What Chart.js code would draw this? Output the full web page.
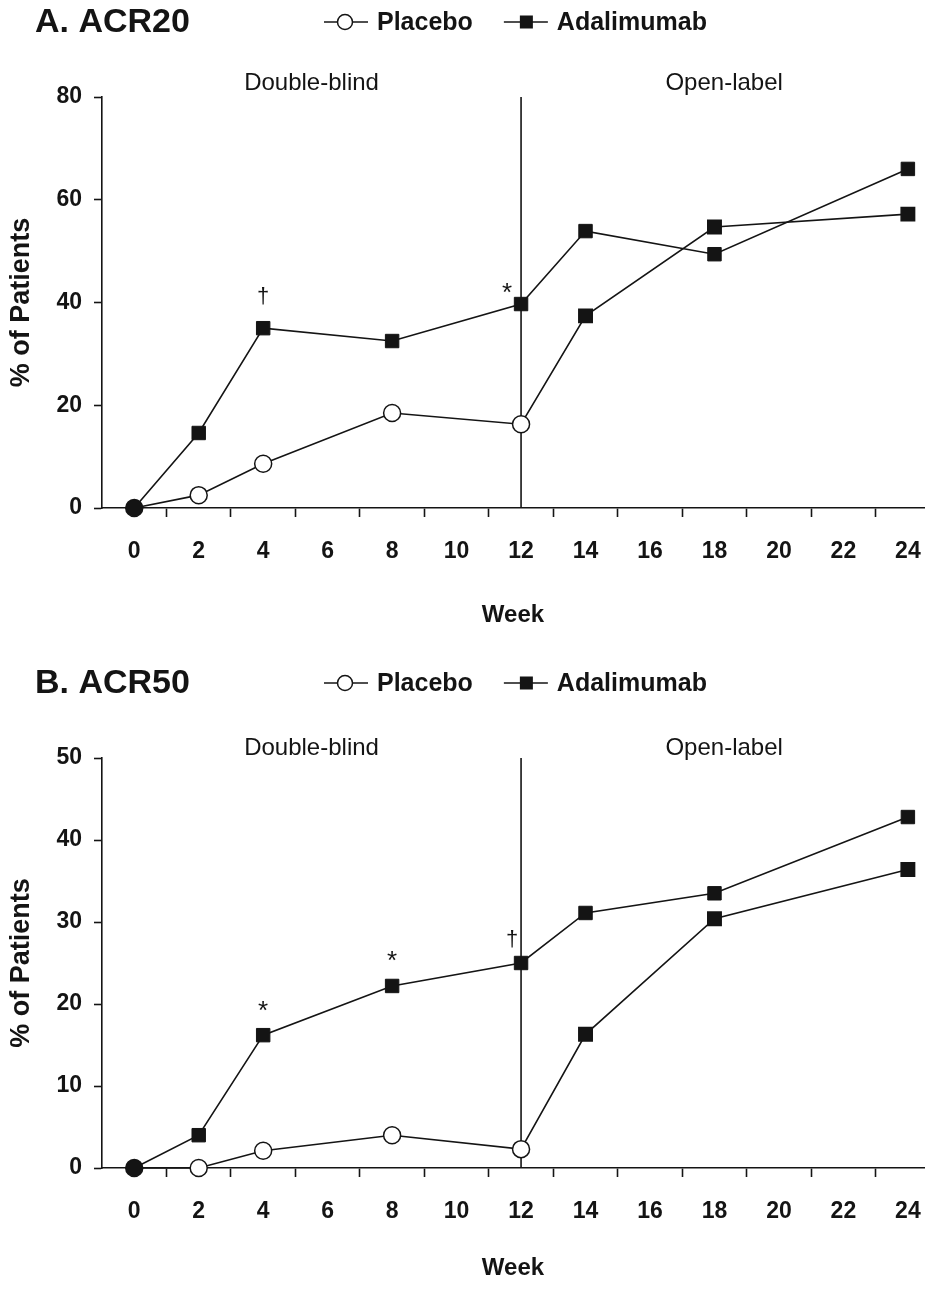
<!DOCTYPE html>
<html>
<head>
<meta charset="utf-8">
<title>ACR20 / ACR50</title>
<script src="https://cdn.jsdelivr.net/npm/chart.js@4.4.1/dist/chart.umd.min.js"></script>
<style>
  html, body { margin: 0; padding: 0; background: #fff; overflow: hidden; }
  canvas { position: absolute; left: 0; display: block; }
  #chartA { top: 0; }
  #chartB { top: 650px; }
</style>
</head>
<body>
<canvas id="chartA" width="935" height="650"></canvas>
<canvas id="chartB" width="935" height="639"></canvas>
<script>
// weeks where patients were assessed
var weeks = [0, 2, 4, 8, 12, 14, 18, 24];
// labelled ticks and the small marks between them
var weekTicks = [0, 2, 4, 6, 8, 10, 12, 14, 16, 18, 20, 22, 24];
var weekMarks = [1, 3, 5, 7, 9, 11, 13, 15, 17, 19, 21, 23];
var switchWeek = 12;

var acr20Placebo = [0, 2.5, 8.6, 18.5, 16.3, 37.4, 54.7, 57.2];
var acr20Adalimumab = [0, 14.6, 35.0, 32.5, 39.7, 53.9, 49.4, 66.0];
var acr20Ticks = [0, 20, 40, 60, 80];

var acr50Placebo = [0, 0, 2.1, 4.0, 2.3, 16.3, 30.4, 36.4];
var acr50Adalimumab = [0, 4.0, 16.2, 22.2, 25.0, 31.1, 33.5, 42.8];
var acr50Ticks = [0, 10, 20, 30, 40, 50];

var seriesNames = ['Placebo', 'Adalimumab'];
var phaseNames = ['Double-blind', 'Open-label'];

var ink = '#141414';
Chart.defaults.font.family = "'Liberation Sans', Arial, Helvetica, sans-serif";
Chart.defaults.color = ink;

// title, legend, phase labels, week-12 line and significance marks
var panelDecor = {
    id: 'panelDecor',
    beforeDatasetsDraw: function (chart, args, opts) {
        var ctx = chart.ctx;
        var x = chart.scales.x.getPixelForValue(switchWeek);
        ctx.save();
        ctx.strokeStyle = ink;
        ctx.lineWidth = 1.6;
        ctx.beginPath();
        ctx.moveTo(x, chart.chartArea.top);
        ctx.lineTo(x, chart.chartArea.bottom);
        ctx.stroke();
        ctx.restore();
    },
    afterDraw: function (chart, args, opts) {
        var ctx = chart.ctx;
        var xs = chart.scales.x;
        var top = chart.chartArea.top;
        ctx.save();
        ctx.fillStyle = ink;
        ctx.strokeStyle = ink;

        // panel title
        ctx.font = "bold 34px 'Liberation Sans', Arial, sans-serif";
        ctx.textAlign = 'left';
        ctx.textBaseline = 'middle';
        ctx.fillText(opts.title, 35, opts.headerY + 1);

        // legend
        var lx = 324;
        ctx.font = "bold 25px 'Liberation Sans', Arial, sans-serif";
        chart.data.datasets.forEach(function (ds, i) {
            ctx.lineWidth = 1.6;
            ctx.beginPath();
            ctx.moveTo(lx, opts.headerY);
            ctx.lineTo(lx + 44, opts.headerY);
            ctx.stroke();
            ctx.lineWidth = 1.5;
            if (i === 0) {
                ctx.fillStyle = '#fff';
                ctx.beginPath();
                ctx.arc(lx + 21, opts.headerY, 7.5, 0, Math.PI * 2);
                ctx.fill();
                ctx.stroke();
            } else {
                ctx.fillStyle = ink;
                ctx.fillRect(lx + 16, opts.headerY - 6.5, 13, 13);
            }
            ctx.fillStyle = ink;
            ctx.fillText(ds.label, lx + 53, opts.headerY + 1);
            lx += 53 + ctx.measureText(ds.label).width + 31;
        });

        // phase labels
        ctx.font = "24px 'Liberation Sans', Arial, sans-serif";
        ctx.textAlign = 'center';
        ctx.textBaseline = 'alphabetic';
        ctx.fillText(phaseNames[0], xs.getPixelForValue(5.5), top - opts.phaseGap);
        ctx.fillText(phaseNames[1], xs.getPixelForValue(18.3), top - opts.phaseGap);

        // significance marks above Adalimumab points
        var meta = chart.getDatasetMeta(1);
        opts.marks.forEach(function (m) {
            var pt = meta.data[weeks.indexOf(m.week)];
            ctx.font = (m.symbol === '*' ? '26px' : '22px') + " 'Liberation Sans', Arial, sans-serif";
            ctx.textBaseline = 'middle';
            ctx.fillText(m.symbol, pt.x + m.dx, pt.y - m.dy);
        });
        ctx.restore();
    }
};

function makePanel(canvasId, cfg) {
    var placeboStyle = function (c) { return weeks[c.dataIndex] > switchWeek ? 'rect' : 'circle'; };
    var placeboFill = function (c) {
        return (c.dataIndex === 0 || weeks[c.dataIndex] > switchWeek) ? ink : '#fff';
    };
    var placeboRadius = function (c) { return weeks[c.dataIndex] > switchWeek ? 9.5 : 8.5; };

    return new Chart(document.getElementById(canvasId), {
        type: 'line',
        data: {
            labels: weeks,
            datasets: [{
                label: seriesNames[0],
                data: weeks.map(function (w, i) { return { x: w, y: cfg.placebo[i] }; }),
                borderColor: ink,
                borderWidth: 1.6,
                pointStyle: placeboStyle,
                pointRadius: placeboRadius,
                pointBackgroundColor: placeboFill,
                pointBorderColor: ink,
                pointBorderWidth: 1.5,
                clip: false,
                order: 0
            }, {
                label: seriesNames[1],
                data: weeks.map(function (w, i) { return { x: w, y: cfg.adalimumab[i] }; }),
                borderColor: ink,
                borderWidth: 1.6,
                pointStyle: 'rect',
                pointRadius: function (c) { return c.dataIndex === 0 ? 0 : 9.5; },
                pointBackgroundColor: ink,
                pointBorderColor: ink,
                pointBorderWidth: 1,
                clip: false,
                order: 1
            }]
        },
        options: {
            responsive: false,
            animation: false,
            devicePixelRatio: 1,
            layout: { padding: { top: cfg.plotTop, left: 0, right: 0, bottom: 0 } },
            plugins: {
                legend: { display: false },
                tooltip: { enabled: false },
                panelDecor: {
                    title: cfg.title,
                    headerY: cfg.headerY,
                    phaseGap: cfg.phaseGap,
                    marks: cfg.marks
                }
            },
            scales: {
                x: {
                    type: 'linear',
                    min: -1,
                    max: 24.5,
                    afterBuildTicks: function (axis) {
                        var vals = weekTicks.concat(weekMarks).sort(function (a, b) { return a - b; });
                        vals = [axis.min].concat(vals, [axis.max]);
                        axis.ticks = vals.map(function (v) { return { value: v }; });
                    },
                    afterFit: function (axis) { axis.height = cfg.xAxisHeight; },
                    border: { display: true, color: ink, width: 1.6 },
                    grid: {
                        drawOnChartArea: false,
                        drawTicks: true,
                        tickLength: 9,
                        tickWidth: 1.6,
                        tickColor: function (c) {
                            return c.tick && weekMarks.indexOf(c.tick.value) >= 0 ? ink : 'rgba(0,0,0,0)';
                        }
                    },
                    ticks: {
                        autoSkip: false,
                        maxRotation: 0,
                        padding: 0,
                        font: { size: 23, weight: 'bold', lineHeight: '70px' },
                        callback: function (v) { return weekTicks.indexOf(v) >= 0 ? String(v) : ''; }
                    },
                    title: {
                        display: true,
                        text: 'Week',
                        font: { size: 24, weight: 'bold' },
                        padding: { top: 0, bottom: cfg.weekPad }
                    }
                },
                y: {
                    min: cfg.yTicks[0],
                    max: cfg.yTicks[cfg.yTicks.length - 1],
                    afterBuildTicks: function (axis) {
                        axis.ticks = cfg.yTicks.map(function (v) { return { value: v }; });
                    },
                    afterFit: function (axis) { axis.width = 102; },
                    border: { display: true, color: ink, width: 1.6 },
                    grid: {
                        drawOnChartArea: false,
                        drawTicks: true,
                        tickLength: 8,
                        tickWidth: 1.6,
                        tickColor: ink
                    },
                    ticks: {
                        padding: 12,
                        font: { size: 23, weight: 'bold' }
                    },
                    title: {
                        display: true,
                        text: '% of Patients',
                        font: { size: 27, weight: 'bold' },
                        padding: { top: 5, bottom: 0 }
                    }
                }
            }
        },
        plugins: [panelDecor]
    });
}

makePanel('chartA', {
    title: 'A. ACR20',
    placebo: acr20Placebo,
    adalimumab: acr20Adalimumab,
    yTicks: acr20Ticks,
    plotTop: 97,
    xAxisHeight: 142,
    weekPad: 20,
    headerY: 22,
    phaseGap: 7,
    marks: [
        { week: 4, symbol: '\u2020', dx: 0, dy: 31 },
        { week: 12, symbol: '*', dx: -14, dy: 10 }
    ]
});

makePanel('chartB', {
    title: 'B. ACR50',
    placebo: acr50Placebo,
    adalimumab: acr50Adalimumab,
    yTicks: acr50Ticks,
    plotTop: 108,
    xAxisHeight: 121,
    weekPad: 6,
    headerY: 33,
    phaseGap: 3,
    marks: [
        { week: 4, symbol: '*', dx: 0, dy: 23 },
        { week: 8, symbol: '*', dx: 0, dy: 24 },
        { week: 12, symbol: '\u2020', dx: -9, dy: 23 }
    ]
});
</script>
</body>
</html>
